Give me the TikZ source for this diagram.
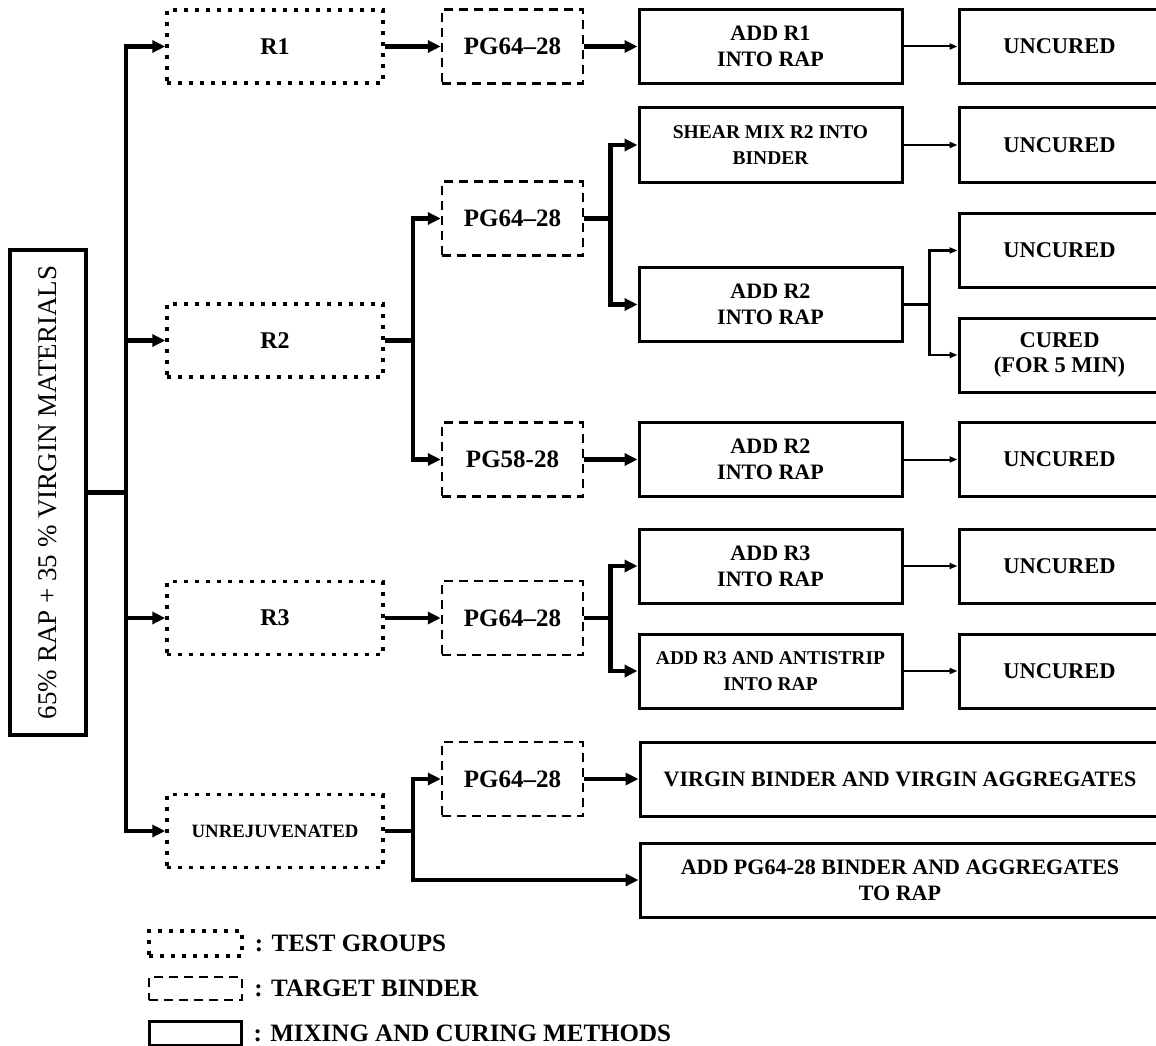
\documentclass[tikz,border=0pt]{standalone}
\usepackage{fontspec}
\setmainfont{Liberation Serif}
\usetikzlibrary{positioning}
\usetikzlibrary{arrows.meta}
\tikzstyle{groupbox}=[draw,line width=3.5pt,dash pattern=on 4pt off 7pt,minimum width=216pt,minimum height=73pt,inner sep=0pt,font=\bfseries\fontsize{24}{30}\selectfont]
\tikzstyle{targetbox}=[draw,line width=2.5pt,dash pattern=on 9pt off 6pt,minimum width=141pt,minimum height=74pt,inner sep=0pt,font=\bfseries\fontsize{25}{30}\selectfont]
\tikzstyle{methodbox}=[draw,line width=3pt,minimum width=263pt,minimum height=74pt,inner sep=0pt,align=center,font=\bfseries\fontsize{22}{26}\selectfont]
\tikzstyle{curebox}=[draw,line width=3pt,minimum width=201pt,minimum height=74pt,inner sep=0pt,align=center,font=\bfseries\fontsize{22.5}{25}\selectfont]
\tikzstyle{smalltext}=[font=\bfseries\fontsize{19.5}{26}\selectfont]
\tikzstyle{legendtext}=[inner sep=0pt,font=\bfseries\fontsize{25}{30}\selectfont]
\tikzstyle{thickedge}=[draw,line width=4.5pt,-{Triangle[length=13pt,width=12pt]}]
\tikzstyle{thinedge}=[draw,line width=2pt,-{Triangle[length=8pt,width=6pt]}]

\begin{document}
\begin{tikzpicture}[x=1pt,y=-1pt]
   \useasboundingbox (0,0) rectangle (1156,1046);

   % mixture
   \node[draw,line width=4pt,minimum width=76pt,minimum height=485pt,inner sep=0pt] (mix) at (48,492.5)
        {\rotatebox{90}{\fontsize{27}{30}\selectfont 65\% RAP + 35 \% VIRGIN MATERIALS}};

   % test groups
   \foreach \pos/\name/\txt in {{(275,46.5)/r1/R1}, {(275,340.5)/r2/R2}, {(275,618)/r3/R3}}
        \node[groupbox] (\name) at \pos {\txt};
   \node[groupbox,smalltext,font=\bfseries\fontsize{18.8}{22}\selectfont] (unrej) at (275,831) {UNREJUVENATED};

   % target binders
   \foreach \pos/\name/\txt in {{(512.5,46.5)/t1/PG64--28}, {(512.5,218.5)/t2a/PG64--28}, {(512.5,459.5)/t2b/PG58-28},
                               {(512.5,618)/t3/PG64--28}, {(512.5,779)/t4/PG64--28}}
        \node[targetbox] (\name) at \pos {\txt};

   % mixing methods
   \foreach \pos/\name/\txt in {{(770.5,46.5)/m1/ADD R1\\INTO RAP}, {(770.5,304.5)/m2b/ADD R2\\INTO RAP},
                               {(770.5,459.5)/m2c/ADD R2\\INTO RAP}, {(770.5,566)/m3a/ADD R3\\INTO RAP}}
        \node[methodbox] (\name) at \pos {\txt};
   \node[methodbox,smalltext] (m2a) at (770.5,145) {SHEAR MIX R2 INTO\\BINDER};
   \node[methodbox,smalltext] (m3b) at (770.5,671) {ADD R3 AND ANTISTRIP\\INTO RAP};
   \node[methodbox,minimum width=520pt] (m4a) at (900,779) {VIRGIN BINDER AND VIRGIN AGGREGATES};
   \node[methodbox,minimum width=520pt] (m4b) at (900,880) {ADD PG64-28 BINDER AND AGGREGATES\\TO RAP};

   % curing
   \foreach \pos/\name/\txt in {{(1059.5,46.5)/c1/UNCURED}, {(1059.5,145)/c2/UNCURED}, {(1059.5,250.5)/c3a/UNCURED},
                               {(1059.5,355)/c3b/CURED\\(FOR 5 MIN)}, {(1059.5,459.5)/c4/UNCURED},
                               {(1059.5,566)/c5/UNCURED}, {(1059.5,671)/c6/UNCURED}}
        \node[curebox] (\name) at \pos {\txt};

   % connectors
   \foreach \dest in {r1,r2,r3,unrej}
        \path[thickedge] (mix.east) -- ++(38,0) |- (\dest.west);

   \foreach \source/\dest in {r1/t1, r3/t3, t1/m1, t2b/m2c, t4/m4a}
        \path[thickedge] (\source) -- (\dest);

   \foreach \source/\dest in {r2/t2a, r2/t2b, unrej/t4, unrej/m4b}
        \path[thickedge] (\source.east) -- ++(28,0) |- (\dest.west);

   \foreach \source/\dest in {t2a/m2a, t2a/m2b, t3/m3a, t3/m3b}
        \path[thickedge] (\source.east) -- ++(26,0) |- (\dest.west);

   \foreach \source/\dest in {m1/c1, m2a/c2, m2c/c4, m3a/c5, m3b/c6}
        \path[thinedge] (\source) -- (\dest);

   \foreach \dest in {c3a,c3b}
        \path[thinedge,line width=2.5pt] (m2b.east) -- ++(26,0) |- (\dest.west);

   % legend
   \node[groupbox,minimum width=93pt,minimum height=25pt] (lgroup) at (195.5,943.5) {};
   \node[targetbox,minimum width=93pt,minimum height=23pt] (ltarget) at (195.5,988.5) {};
   \node[methodbox,minimum width=92pt,minimum height=24pt] (lmethod) at (195,1033) {};
   \node[legendtext,right=11pt of lgroup] {: TEST GROUPS};
   \node[legendtext,right=11pt of ltarget] {: TARGET BINDER};
   \node[legendtext,right=11pt of lmethod] {: MIXING AND CURING METHODS};

\end{tikzpicture}
\end{document}
